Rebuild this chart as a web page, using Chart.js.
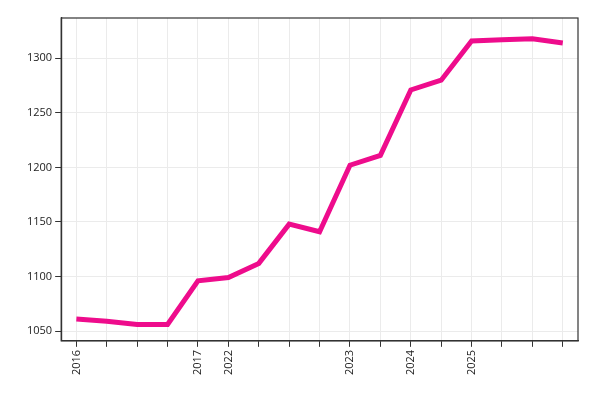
<!DOCTYPE html>
<html><head><script src="https://cdn.jsdelivr.net/npm/chart.js@4"></script>
<style>body{margin:0;background:#fff}#w{width:600px;height:400px}</style></head>
<body><div id="w"><canvas id="c"></canvas></div>
<script>
const categories=['2016','','','','2017','2022','','','','2023','','2024','','2025','','',''];
const values=[1061,1059,1056,1056,1096,1099,1112,1148,1141,1202,1211,1271,1280,1316,1317,1318,1314];
const yTicks=[1050,1100,1150,1200,1250,1300];
const frame={id:'frame',afterDraw(c){const a=c.chartArea,x=c.ctx;x.save();x.strokeStyle='#333';x.lineWidth=1.2;x.strokeRect(a.left,a.top,a.right-a.left,a.bottom-a.top);x.restore();}};
new Chart(document.getElementById('c'),{type:'line',
data:{labels:categories,datasets:[{data:values,borderColor:'#ee0c8c',borderWidth:5,pointRadius:0,tension:0,fill:false}]},
options:{responsive:true,maintainAspectRatio:false,animation:false,
layout:{padding:{left:24,right:22,top:18,bottom:22}},
plugins:{legend:{display:false},tooltip:{enabled:false}},
scales:{
x:{offset:true,grid:{color:'#ebebeb',tickColor:'#333',tickLength:6,drawOnChartArea:true},border:{color:'#333',width:1.2},
ticks:{autoSkip:false,maxRotation:90,minRotation:90,color:'#222',font:{family:'Open Sans',size:11}}},
y:{min:1041,max:1337,grid:{color:'#ebebeb',tickColor:'#333',tickLength:6},border:{color:'#333',width:1.2},
afterBuildTicks:a=>{a.ticks=yTicks.map(v=>({value:v}));},
ticks:{color:'#222',font:{family:'Open Sans',size:11},callback:v=>String(v)}}
}}, plugins:[frame]});
</script></body></html>
